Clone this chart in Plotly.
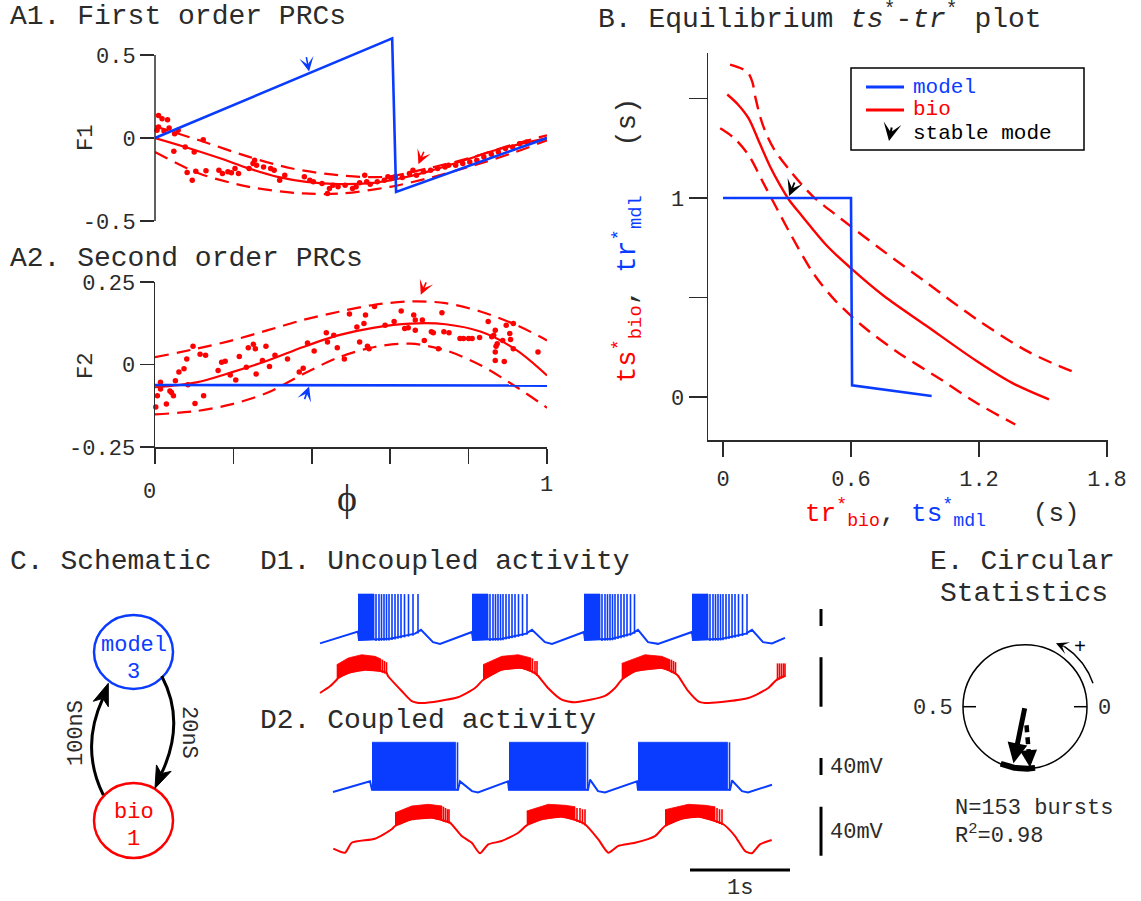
import numpy as np
import plotly.graph_objects as go

W, H = 1141, 901
BLUE = '#0a3cff'
RED = '#ff0000'
INK = '#2b2b2b'
MONO = 'Liberation Mono'
SERIF = 'Liberation Serif'

# ======================= DATA =======================
# ---- A1: first order PRCs ----
a1_model_phi = [0.0, 0.605, 0.615, 1.0]
a1_model_f1 = [0.0, 0.60, -0.325, 0.0]
a1_fit_phi = [0.0, 0.077, 0.168, 0.24, 0.313, 0.386, 0.467, 0.558, 0.612, 0.694, 0.785, 0.876, 1.0]
a1_fit_f1 = [0.0, -0.054, -0.124, -0.184, -0.234, -0.264, -0.278, -0.27, -0.25, -0.204, -0.138, -0.068, 0.0]
a1_upper_phi = [0.0, 0.113, 0.24, 0.35, 0.467, 0.585, 0.694, 0.812, 0.92, 1.0]
a1_upper_f1 = [0.07, -0.014, -0.114, -0.184, -0.224, -0.234, -0.184, -0.114, -0.034, 0.016]
a1_lower_phi = [0.0, 0.113, 0.24, 0.377, 0.476, 0.6, 0.694, 0.83, 0.92, 1.0]
a1_lower_f1 = [-0.084, -0.214, -0.294, -0.334, -0.334, -0.294, -0.244, -0.154, -0.084, -0.014]
a1_dots_phi = [0.009, 0.018, 0.032, 0.005, 0.009, 0.023, 0.036, 0.050, 0.059, 0.048,
               0.077, 0.100, 0.095, 0.082, 0.104, 0.123, 0.130, 0.163, 0.172, 0.186,
               0.195, 0.204, 0.213, 0.240, 0.250, 0.254, 0.259, 0.277, 0.295, 0.304,
               0.318, 0.331, 0.381, 0.395, 0.404, 0.426, 0.445, 0.440, 0.454, 0.467,
               0.485, 0.504, 0.513, 0.522, 0.535, 0.540, 0.549, 0.567, 0.585, 0.594,
               0.603, 0.613, 0.631, 0.649, 0.658, 0.667, 0.685, 0.703, 0.721, 0.740,
               0.749, 0.767, 0.785, 0.803, 0.821, 0.839, 0.858, 0.876, 0.894, 0.912,
               0.930, 0.948, 1.003]
a1_dots_f1 = [0.136, 0.116, 0.110, 0.046, 0.066, 0.042, 0.060, 0.026, 0.046, -0.080,
              -0.054, -0.084, -0.254, -0.208, -0.200, -0.010, -0.198, -0.194, -0.214, -0.204,
              -0.210, -0.184, -0.214, -0.184, -0.154, -0.134, -0.164, -0.174, -0.184, -0.194,
              -0.254, -0.224, -0.234, -0.254, -0.264, -0.274, -0.304, -0.334, -0.284, -0.294,
              -0.284, -0.304, -0.294, -0.270, -0.224, -0.264, -0.278, -0.264, -0.254, -0.234,
              -0.244, -0.234, -0.238, -0.214, -0.194, -0.224, -0.204, -0.194, -0.184, -0.174,
              -0.164, -0.164, -0.154, -0.144, -0.134, -0.114, -0.098, -0.084, -0.064, -0.054,
              -0.034, -0.024, 0.006]
a1_model_mode = (0.393, 0.40)
a1_bio_mode = (0.672, -0.158)

# ---- A2: second order PRCs ----
a2_model_phi = [0.0, 1.0]
a2_model_f2 = [-0.062, -0.064]
a2_fit_phi = [0.0, 0.106, 0.197, 0.288, 0.378, 0.469, 0.56, 0.651, 0.741, 0.832, 0.923, 1.0]
a2_fit_f2 = [-0.069, -0.054, -0.023, 0.012, 0.053, 0.089, 0.112, 0.124, 0.122, 0.099, 0.043, -0.033]
a2_upper_f2 = [0.022, 0.048, 0.073, 0.104, 0.135, 0.160, 0.181, 0.191, 0.186, 0.160, 0.119, 0.073]
a2_lower_f2 = [-0.151, -0.141, -0.120, -0.085, -0.029, 0.022, 0.053, 0.063, 0.043, -0.003, -0.069, -0.131]
a2_dots_phi = [0.002, 0.006, 0.014, 0.014, 0.029, 0.038, 0.042, 0.047, 0.052, 0.061,
               0.074, 0.081, 0.084, 0.097, 0.102, 0.115, 0.124, 0.129, 0.161, 0.170,
               0.179, 0.192, 0.206, 0.215, 0.233, 0.238, 0.251, 0.256, 0.258, 0.274,
               0.283, 0.292, 0.306, 0.338, 0.368, 0.378, 0.389, 0.406, 0.437, 0.440,
               0.456, 0.465, 0.483, 0.496, 0.515, 0.522, 0.533, 0.537, 0.542, 0.546,
               0.560, 0.587, 0.610, 0.628, 0.637, 0.646, 0.660, 0.664, 0.664, 0.682,
               0.687, 0.705, 0.710, 0.723, 0.732, 0.737, 0.750, 0.778, 0.787, 0.800,
               0.809, 0.828, 0.850, 0.859, 0.864, 0.868, 0.870, 0.873, 0.868, 0.868,
               0.887, 0.891, 0.896, 0.905, 0.907, 0.914, 0.914, 0.977]
a2_dots_f2 = [-0.129, -0.095, -0.074, -0.054, -0.120, -0.080, -0.085, -0.095, -0.049, -0.023,
              -0.013, 0.017, -0.061, 0.055, -0.118, 0.031, -0.095, 0.028, -0.018, 0.007,
              0.010, -0.032, -0.047, 0.024, -0.008, 0.051, 0.061, 0.048, -0.029, 0.012,
              0.055, -0.006, 0.028, 0.017, -0.023, -0.011, 0.065, 0.041, 0.096, 0.068,
              0.089, 0.051, 0.017, 0.153, 0.114, 0.068, 0.124, 0.150, 0.055, 0.048,
              0.176, 0.119, 0.130, 0.162, 0.109, 0.111, 0.150, 0.135, 0.104, 0.135,
              0.073, 0.099, 0.096, 0.048, 0.157, 0.099, 0.096, 0.079, 0.079, 0.079,
              0.079, 0.082, 0.130, 0.084, 0.089, 0.104, 0.055, 0.063, 0.038, 0.012,
              0.073, 0.009, 0.119, 0.094, 0.076, 0.124, 0.048, 0.038]
a2_model_mode = (0.393, -0.067)
a2_bio_mode = (0.678, 0.211)
phi_ticks = [0.0, 0.2, 0.4, 0.6, 0.8, 1.0]

# ---- B: equilibrium ts*-tr* ----
b_model_x = [0.0, 0.60, 0.605, 0.978]
b_model_y = [1.0, 1.0, 0.059, 0.005]
b_bio_x = [0.02, 0.07, 0.12, 0.17, 0.22, 0.27, 0.31, 0.37, 0.487, 0.603, 0.753, 0.953, 1.187, 1.353, 1.528]
b_bio_y = [1.52, 1.47, 1.40, 1.28, 1.16, 1.06, 0.99, 0.91, 0.76, 0.644, 0.509, 0.358, 0.182, 0.072, -0.012]
b_upper_x = [0.033, 0.112, 0.137, 0.153, 0.187, 0.237, 0.32, 0.42, 0.553, 0.737, 0.953, 1.187, 1.437, 1.67]
b_upper_y = [1.67, 1.635, 1.585, 1.50, 1.366, 1.249, 1.13, 1.01, 0.896, 0.745, 0.576, 0.392, 0.224, 0.114]
b_lower_x = [-0.013, 0.053, 0.12, 0.187, 0.253, 0.32, 0.42, 0.52, 0.653, 0.82, 1.02, 1.187, 1.37]
b_lower_y = [1.35, 1.30, 1.215, 1.08, 0.946, 0.812, 0.627, 0.492, 0.358, 0.224, 0.089, -0.029, -0.138]
b_stable = (0.31, 1.01)
b_xticks = [0.0, 0.6, 1.2, 1.8]
b_xticktext = ['0', '0.6', '1.2', '1.8']
b_yticks = [0.0, 0.5, 1.0, 1.5]
b_yticktext = ['0', '', '1', '']

# ---- D1: uncoupled activity (time s, membrane mV) ----
d1m_t = [0.00, 0.38, 0.39, 0.70, 0.95, 1.01, 1.13, 1.20, 1.52, 1.53, 1.82, 2.06, 2.12, 2.25, 2.32,
         2.64, 2.65, 2.92, 3.12, 3.18, 3.28, 3.38, 3.72, 3.73, 4.02, 4.26, 4.32, 4.43, 4.52, 4.65]
d1m_v = [-61, -33, -53, -50, -38, -29, -58, -62, -34, -53, -50, -38, -29, -58, -62,
         -34, -53, -50, -38, -29, -58, -62, -34, -53, -50, -38, -29, -58, -61, -48]
d1m_burst_start = [0.38, 1.52, 2.64, 3.72]
d1m_burst_end = [1.01, 2.12, 3.18, 4.32]
d1m_dense_end = [0.54, 1.68, 2.80, 3.88]
d1m_spike_offsets = [0.18, 0.21, 0.235, 0.26, 0.285, 0.31, 0.34, 0.37, 0.40, 0.43, 0.465, 0.505, 0.55, 0.60]
d1m_peak = 55

d1b_t = [0.00, 0.10, 0.167, 0.183, 0.283, 0.45, 0.617, 0.667, 0.68, 0.817, 0.917, 1.017, 1.38, 1.55,
         1.63, 1.817, 2.017, 2.15, 2.18, 2.28, 2.417, 2.55, 2.85, 2.95, 3.017, 3.15, 3.417, 3.55,
         3.58, 3.683, 3.783, 3.883, 4.283, 4.483, 4.567, 4.65]
d1b_v = [-51.9, -46.5, -41.2, -39.8, -35.8, -33.1, -34.4, -35.8, -38.2, -50.3, -58.4, -60, -55.4, -47.9,
         -41.4, -33.1, -31.7, -35.8, -38, -47.9, -57.3, -59.4, -54.3, -47.9, -41.2, -34.4, -31.7, -35.8,
         -38, -50.5, -58.6, -60, -56, -47.9, -41.2, -38]
d1b_band_t = [[0.167, 0.283, 0.417, 0.55, 0.61], [1.63, 1.817, 1.983, 2.11], [3.017, 3.25, 3.417, 3.50]]
d1b_band_v = [[-29.1, -23.6, -21, -22.3, -24.5], [-29, -22.3, -21, -23.6], [-28, -21, -22.3, -25]]
d1b_spike_t = [0.625, 0.645, 0.665, 2.125, 2.15, 2.17, 3.515, 3.535, 3.555, 4.575, 4.595, 4.615, 4.635, 4.65]
d1b_spike_v = [-25, -26, -27, -24, -26, -26, -25, -26, -27, -28, -28, -28, -28, -28]

# ---- D2: coupled activity ----
d2m_t = [0.13, 0.50, 0.52, 1.38, 1.40, 1.52, 1.58, 1.88, 1.89, 2.68, 2.70, 2.78, 2.85, 3.17, 3.18,
         4.10, 4.12, 4.22, 4.28, 4.52]
d2m_v = [-60, -35, -55, -55, -35, -58, -61, -35, -55, -55, -31, -58, -61, -35, -55,
         -55, -33, -58, -61, -43]
d2m_block_start = [0.52, 1.89, 3.18]
d2m_block_end = [1.355, 2.655, 4.075]
d2m_last_spike = [1.375, 2.675, 4.095]
d2m_peak = 57

d2b_t = [0.133, 0.25, 0.317, 0.55, 0.717, 0.75, 0.917, 1.117, 1.25, 1.30, 1.417, 1.517, 1.60, 1.683,
         1.817, 1.983, 2.067, 2.217, 2.417, 2.583, 2.65, 2.783, 2.883, 2.983, 3.15, 3.35, 3.45,
         3.617, 3.783, 3.95, 4.033, 4.15, 4.25, 4.317, 4.40, 4.517]
d2b_v = [-56.2, -59.5, -51.4, -48.1, -40.4, -37.7, -32.3, -31, -33.6, -35, -45.9, -51.4, -60, -52.7,
         -50, -43.2, -37.2, -32.3, -30.1, -33.6, -36.3, -48.6, -59.5, -54, -51.4, -45.9, -37.7,
         -31.8, -30.1, -33.6, -36.3, -45.9, -58.1, -60, -52.7, -49.1]
d2b_band_t = [[0.75, 0.917, 1.083, 1.22], [2.067, 2.283, 2.45, 2.55], [3.45, 3.683, 3.85, 3.95]]
d2b_band_v = [[-26.9, -21.4, -20, -21.4], [-25.5, -20, -20.8, -22], [-24.4, -20, -20.8, -22]]
d2b_spike_t = [1.235, 1.255, 1.275, 1.29, 2.57, 2.60, 2.625, 2.65, 3.97, 3.995, 4.02]
d2b_spike_v = [-22, -23, -24, -24, -23, -23, -24, -24, -23, -24, -24]

scale_mv = 40
scale_s = 1.0

# ---- E: circular statistics ----
e_mean_phase = 0.718
e_mean_length = 0.93
e_ref_phase = 0.763
e_phase_range = [0.686, 0.776]
e_n_bursts = 153
e_r2 = 0.98

# ======================= HELPERS (pixel layout) =======================
def PX(x):
    return x / W


def PY(y):
    return 1 - y / H


def lin_map(p0, v0, p1, v1):
    s = (v1 - v0) / (p1 - p0)
    return (lambda p: v0 + (p - p0) * s), (lambda v: p0 + (v - v0) / s)


phx_val, phx_px = lin_map(155, 0.0, 547, 1.0)
a1y_val, a1y_px = lin_map(138, 0.0, 55, 0.5)
a2y_val, a2y_px = lin_map(364.5, 0.0, 282, 0.25)
bx_val, bx_px = lin_map(723, 0.0, 851, 0.6)
by_val, by_px = lin_map(397, 0.0, 198, 1.0)
dx_val, dx_px = lin_map(320, 0.0, 420, 1.0)
d1m_val, d1m_px = lin_map(643, -60, 626, -20)
d1b_val, d1b_px = lin_map(703, -60, 653.5, -20)
d2m_val, d2m_px = lin_map(792, -60, 775, -20)
d2b_val, d2b_px = lin_map(853.3, -60, 804.3, -20)
ex_val, ex_px = lin_map(1025, 0.0, 1087, 1.0)
ey_val, ey_px = lin_map(706.7, 0.0, 644.7, 1.0)


def xdom(a, b):
    return [PX(a), PX(b)]


def ydom(bottom, top):
    return [PY(bottom), PY(top)]


fig = go.Figure()


def line_tr(x, y, xa, ya, color, width=2.2, dash='solid', shape='linear', fill=None, smoothing=0.9):
    kw = dict(x=x, y=y, mode='lines', xaxis=xa, yaxis=ya, hoverinfo='skip',
              line=dict(color=color, width=width, dash=dash, shape=shape))
    if shape == 'spline':
        kw['line']['smoothing'] = smoothing
    if fill:
        kw['fill'] = 'toself'
        kw['fillcolor'] = color
    fig.add_trace(go.Scatter(**kw))


DASH = '14px,8px'

# ---------------- A1 ----------------
fig.add_trace(go.Scatter(x=a1_dots_phi, y=a1_dots_f1, mode='markers', xaxis='x', yaxis='y',
                         marker=dict(color=RED, size=5.5), cliponaxis=False, hoverinfo='skip'))
line_tr(a1_upper_phi, a1_upper_f1, 'x', 'y', RED, 2.2, DASH, 'spline')
line_tr(a1_lower_phi, a1_lower_f1, 'x', 'y', RED, 2.2, DASH, 'spline')
line_tr(a1_fit_phi, a1_fit_f1, 'x', 'y', RED, 2.2, 'solid', 'spline')
line_tr(a1_model_phi, a1_model_f1, 'x', 'y', BLUE, 2.6)

# ---------------- A2 ----------------
fig.add_trace(go.Scatter(x=a2_dots_phi, y=a2_dots_f2, mode='markers', xaxis='x2', yaxis='y2',
                         marker=dict(color=RED, size=5.5), cliponaxis=False, hoverinfo='skip'))
line_tr(a2_fit_phi, a2_upper_f2, 'x2', 'y2', RED, 2.2, DASH, 'spline')
line_tr(a2_fit_phi, a2_lower_f2, 'x2', 'y2', RED, 2.2, DASH, 'spline')
line_tr(a2_fit_phi, a2_fit_f2, 'x2', 'y2', RED, 2.2, 'solid', 'spline')
line_tr(a2_model_phi, a2_model_f2, 'x2', 'y2', BLUE, 2.6)

# ---------------- B ----------------
line_tr(b_upper_x, b_upper_y, 'x3', 'y3', RED, 2.4, DASH, 'spline')
line_tr(b_lower_x, b_lower_y, 'x3', 'y3', RED, 2.4, DASH, 'spline')
line_tr(b_bio_x, b_bio_y, 'x3', 'y3', RED, 2.4, 'solid', 'spline')
line_tr(b_model_x, b_model_y, 'x3', 'y3', BLUE, 2.6)


# ---------------- D traces ----------------
def band_poly(top_t, top_v, base_t, base_v):
    t0, t1 = top_t[0], top_t[-1]
    inner = [(t, v) for t, v in zip(base_t, base_v) if t0 < t < t1]
    bt = [t1] + [t for t, _ in reversed(inner)] + [t0]
    bv = [float(np.interp(t1, base_t, base_v))] + [v for _, v in reversed(inner)] + \
         [float(np.interp(t0, base_t, base_v))]
    return list(top_t) + bt, list(top_v) + bv


def spikes(ts, peaks, base_t, base_v, drop=3):
    xs, ys = [], []
    for t, p in zip(ts, peaks):
        xs += [t, t, None]
        ys += [float(np.interp(t, base_t, base_v)) - drop, p, None]
    return xs, ys


# D1 model (blue)
line_tr(d1m_t, d1m_v, 'x4', 'y4', BLUE, 2.0)
for s, de in zip(d1m_burst_start, d1m_dense_end):
    px_, py_ = band_poly([s, de], [d1m_peak, d1m_peak], d1m_t, d1m_v)
    line_tr(px_, py_, 'x4', 'y4', BLUE, 0.8, fill=True)
sp_t, sp_v = [], []
for s, e in zip(d1m_burst_start, d1m_burst_end):
    for o in d1m_spike_offsets:
        if s + o <= e - 0.02:
            sp_t.append(s + o)
            sp_v.append(d1m_peak)
xs, ys = spikes(sp_t, sp_v, d1m_t, d1m_v, drop=4)
line_tr(xs, ys, 'x4', 'y4', BLUE, 1.6)

# D1 bio (red)
line_tr(d1b_t, d1b_v, 'x4', 'y5', RED, 2.0, shape='spline', smoothing=0.6)
for bt, bv in zip(d1b_band_t, d1b_band_v):
    px_, py_ = band_poly(bt, bv, d1b_t, d1b_v)
    line_tr(px_, py_, 'x4', 'y5', RED, 0.8, fill=True)
xs, ys = spikes(d1b_spike_t, d1b_spike_v, d1b_t, d1b_v, drop=1)
line_tr(xs, ys, 'x4', 'y5', RED, 1.6)

# D2 model (blue)
line_tr(d2m_t, d2m_v, 'x4', 'y6', BLUE, 2.0)
for s, e in zip(d2m_block_start, d2m_block_end):
    px_, py_ = band_poly([s, e], [d2m_peak, d2m_peak], d2m_t, d2m_v)
    line_tr(px_, py_, 'x4', 'y6', BLUE, 0.8, fill=True)
xs, ys = spikes(d2m_last_spike, [d2m_peak] * len(d2m_last_spike), d2m_t, d2m_v, drop=2)
line_tr(xs, ys, 'x4', 'y6', BLUE, 1.6)

# D2 bio (red)
line_tr(d2b_t, d2b_v, 'x4', 'y7', RED, 2.0, shape='spline', smoothing=0.6)
for bt, bv in zip(d2b_band_t, d2b_band_v):
    px_, py_ = band_poly(bt, bv, d2b_t, d2b_v)
    line_tr(px_, py_, 'x4', 'y7', RED, 0.8, fill=True)
xs, ys = spikes(d2b_spike_t, d2b_spike_v, d2b_t, d2b_v, drop=1)
line_tr(xs, ys, 'x4', 'y7', RED, 1.6)

# ---------------- E ----------------
arc = np.linspace(e_phase_range[0], e_phase_range[1], 40) * 2 * np.pi
line_tr(np.cos(arc), np.sin(arc), 'x5', 'y8', 'black', 6)
ang = np.radians(np.linspace(19, 57, 30))
line_tr(1.16 * np.cos(ang), 1.16 * np.sin(ang), 'x5', 'y8', 'black', 1.5)
rp = 2 * np.pi * e_ref_phase
line_tr([0.30 * np.cos(rp), 0.84 * np.cos(rp)], [0.30 * np.sin(rp), 0.84 * np.sin(rp)],
        'x5', 'y8', 'black', 4.5, '7px,5px')

# ======================= ANNOTATIONS =======================
ann = []


def txt(x, y, text, size=22, color=INK, xanchor='left', angle=0, family=MONO):
    ann.append(dict(x=PX(x), y=PY(y), xref='paper', yref='paper', text=text, showarrow=False,
                    xanchor=xanchor, yanchor='middle', textangle=angle,
                    font=dict(family=family, size=size, color=color)))


def arrow(x, y, ax, ay, xref, yref, color, width=1.6, size=1.5, head=3, axref='pixel', ayref='pixel'):
    ann.append(dict(x=x, y=y, ax=ax, ay=ay, xref=xref, yref=yref, axref=axref, ayref=ayref,
                    text='', showarrow=True, arrowhead=head, arrowsize=size, arrowwidth=width,
                    arrowcolor=color))


# titles
TS = 28
txt(8, 17, 'A1. First order PRCs', TS)
txt(8, 258, 'A2. Second order PRCs', TS)
txt(596, 17, 'B. Equilibrium <i>ts</i><sup>*</sup>-<i>tr</i><sup>*</sup> plot', TS)
txt(8, 561, 'C. Schematic', TS)
txt(258, 561, 'D1. Uncoupled activity', TS)
txt(258, 720, 'D2. Coupled activity', TS)
txt(1022, 561, 'E. Circular', TS, xanchor='center')
txt(1024, 593, 'Statistics', TS, xanchor='center')

# A labels
txt(86, 138, 'F1', 22, angle=-90, xanchor='center')
txt(86, 366, 'F2', 22, angle=-90, xanchor='center')
txt(phx_px(0.0) - 6, 492, '0', 22, xanchor='center')
txt(phx_px(1.0) - 1, 485, '1', 22, xanchor='center')
txt(347, 498, 'ϕ', 38, family=SERIF, xanchor='center')

# A arrows (stable modes)
arrow(a1_model_mode[0], a1_model_mode[1], -3, -16, 'x', 'y', BLUE)
arrow(a1_bio_mode[0], a1_bio_mode[1], 6, -14, 'x', 'y', RED)
arrow(a2_model_mode[0], a2_model_mode[1], -5, 14, 'x2', 'y2', BLUE)
arrow(a2_bio_mode[0], a2_bio_mode[1], 6, -14, 'x2', 'y2', RED)

# B labels
ylab = ('<span style="color:%s">ts<sup>*</sup><sub>bio</sub></span>, '
        '<span style="color:%s">tr<sup>*</sup><sub>mdl</sub></span>&nbsp;&nbsp;&nbsp;(s)') % (RED, BLUE)
xlab = ('<span style="color:%s">tr<sup>*</sup><sub>bio</sub></span>, '
        '<span style="color:%s">ts<sup>*</sup><sub>mdl</sub></span>&nbsp;&nbsp;&nbsp;(s)') % (RED, BLUE)
txt(628, 240, ylab, 27, angle=-90, xanchor='center')
txt(942, 513, xlab, 26, xanchor='center')
arrow(b_stable[0], b_stable[1], 6, -15, 'x3', 'y3', 'black', width=1.8)

# B legend
txt(911, 87, 'model', 21, BLUE)
txt(911, 110, 'bio', 21, RED)
txt(911, 133, 'stable mode', 21, 'black')
arrow(PX(889), PY(141), 3, -15, 'paper', 'paper', 'black', width=2.0)

# C schematic texts
txt(133.5, 645, 'model', 22, BLUE, 'center')
txt(133.5, 672, '3', 22, BLUE, 'center')
txt(133.5, 812, 'bio', 22, RED, 'center')
txt(133.5, 839, '1', 22, RED, 'center')
txt(76, 733, '100nS', 22, angle=-90, xanchor='center')
txt(189, 733, '20nS', 22, angle=90, xanchor='center')

# D scale labels
txt(828, (d2m_px(-20) + d2m_px(-20 + scale_mv)) / 2 + 1, '40mV', 22)
txt(828, (d2b_px(-62) + d2b_px(-62 + scale_mv)) / 2 + 1, '40mV', 22)
txt((dx_px(3.7) + dx_px(3.7 + scale_s)) / 2, 888, '1s', 22, xanchor='center')

# E texts and arrows
txt(933, 708, '0.5', 22, xanchor='center')
txt(1104, 708, '0', 22, xanchor='center')
txt(1080, 647, '+', 20, 'black', 'center')
txt(953, 808, 'N=%d bursts' % e_n_bursts, 22)
txt(953, 834, 'R<sup>2</sup>=%.2f' % e_r2, 22)
mp = 2 * np.pi * e_mean_phase
arrow(e_mean_length * np.cos(mp), e_mean_length * np.sin(mp), 0, 0, 'x5', 'y8', 'black',
      width=5, size=0.8, head=2, axref='x5', ayref='y8')
arrow(0.98 * np.cos(rp), 0.98 * np.sin(rp), 0.80 * np.cos(rp), 0.80 * np.sin(rp), 'x5', 'y8', 'black',
      width=4.0, size=0.85, head=2, axref='x5', ayref='y8')
a0, a1_ = np.radians(56), np.radians(64)
arrow(1.14 * np.cos(a1_), 1.14 * np.sin(a1_), 1.16 * np.cos(a0), 1.16 * np.sin(a0), 'x5', 'y8', 'black',
      width=1.5, size=1.4, head=3, axref='x5', ayref='y8')

# ======================= SHAPES =======================
shapes = []


def pline(x0, y0, x1, y1, color=INK, width=1.5):
    shapes.append(dict(type='line', xref='paper', yref='paper', x0=PX(x0), y0=PY(y0), x1=PX(x1), y1=PY(y1),
                       line=dict(color=color, width=width)))


# A1 spine (only between -0.5 and 0.5)
pline(155, a1y_px(-0.5), 155, a1y_px(0.5))

# B legend box and samples
shapes.append(dict(type='rect', xref='paper', yref='paper', x0=PX(851), x1=PX(1084), y0=PY(150), y1=PY(68),
                   line=dict(color='black', width=1.5)))
pline(866, 87, 904, 87, BLUE, 3)
pline(866, 110, 904, 110, RED, 3)

# C schematic circles
shapes.append(dict(type='circle', xref='paper', yref='paper', x0=PX(94), x1=PX(173), y0=PY(689), y1=PY(615),
                   line=dict(color=BLUE, width=2.5)))
shapes.append(dict(type='circle', xref='paper', yref='paper', x0=PX(94), x1=PX(173), y0=PY(858), y1=PY(783),
                   line=dict(color=RED, width=2.5)))


def head_path(tip, back, L=22, w=8, notch=6):
    d = np.array(tip, float) - np.array(back, float)
    d /= np.linalg.norm(d)
    n = np.array([-d[1], d[0]])
    t = np.array(tip, float)
    c = t - L * d
    p1 = c + w * n
    p2 = c - w * n
    nt = t - (L - notch) * d
    pts = [t, p1, nt, p2]
    path = 'M ' + ' L '.join('%f,%f' % (PX(p[0]), PY(p[1])) for p in pts) + ' Z'
    return path, nt


def curve(p0, c, p1):
    return 'M %f,%f Q %f,%f %f,%f' % (PX(p0[0]), PY(p0[1]), PX(c[0]), PY(c[1]), PX(p1[0]), PY(p1[1]))


hp, nt = head_path((108.3, 683.3), (100.8, 704))
shapes.append(dict(type='path', xref='paper', yref='paper', path=curve((103.3, 795), (80, 748), nt),
                   line=dict(color='black', width=3)))
shapes.append(dict(type='path', xref='paper', yref='paper', path=hp, fillcolor='black',
                   line=dict(color='black', width=1)))
hp, nt = head_path((155, 788.3), (163.8, 768.1))
shapes.append(dict(type='path', xref='paper', yref='paper', path=curve((161.7, 676), (186, 722), nt),
                   line=dict(color='black', width=3)))
shapes.append(dict(type='path', xref='paper', yref='paper', path=hp, fillcolor='black',
                   line=dict(color='black', width=1)))

# D scale bars (40 mV on each trace's own scale, 1 s on time axis)
pline(821, d1m_px(-20), 821, d1m_px(-20 + scale_mv), 'black', 3)
pline(821, d1b_px(-63), 821, d1b_px(-63 + scale_mv), 'black', 3)
pline(821, d2m_px(-20), 821, d2m_px(-20 + scale_mv), 'black', 3)
pline(821, d2b_px(-62), 821, d2b_px(-62 + scale_mv), 'black', 3)
pline(dx_px(3.7), 870, dx_px(3.7 + scale_s), 870, 'black', 3)

# E circle and ticks
shapes.append(dict(type='circle', xref='x5', yref='y8', x0=-1, x1=1, y0=-1, y1=1,
                   line=dict(color='black', width=1.5)))
shapes.append(dict(type='line', xref='x5', yref='y8', x0=-1, x1=-0.79, y0=0, y1=0, line=dict(color='black', width=1.5)))
shapes.append(dict(type='line', xref='x5', yref='y8', x0=1, x1=0.79, y0=0, y1=0, line=dict(color='black', width=1.5)))

# ======================= LAYOUT =======================
tickfont = dict(family=MONO, size=22, color=INK)
hidden = dict(visible=False, showgrid=False, zeroline=False, fixedrange=True)
axis_common = dict(showgrid=False, zeroline=False, ticks='outside', tickwidth=1.5, tickcolor=INK,
                   linecolor=INK, linewidth=1.5, tickfont=tickfont, automargin=False)

fig.update_layout(
    width=W, height=H, margin=dict(l=0, r=0, t=0, b=0),
    paper_bgcolor='white', plot_bgcolor='rgba(0,0,0,0)', showlegend=False,
    font=dict(family=MONO, color=INK),
    xaxis=dict(domain=xdom(155, 547), range=[0, 1], anchor='y', **hidden),
    yaxis=dict(domain=ydom(226, 25), range=[a1y_val(226), a1y_val(25)], anchor='x', showline=False,
               tickvals=[-0.5, 0, 0.5], ticktext=['-0.5', '0', '0.5'], ticklen=14, ticklabelstandoff=0,
               **axis_common),
    xaxis2=dict(domain=xdom(155, 547), range=[0, 1], anchor='y2', showline=True, tickvals=phi_ticks,
                showticklabels=False, ticklen=15, **axis_common),
    yaxis2=dict(domain=ydom(447, 282), range=[-0.25, 0.25], anchor='x2', showline=True,
                tickvals=[-0.25, 0, 0.25], ticktext=['-0.25', '0', '0.25'], ticklen=14, ticklabelstandoff=0,
                **axis_common),
    xaxis3=dict(domain=xdom(708, 1108), range=[bx_val(708), bx_val(1108)], anchor='y3', showline=True,
                tickvals=b_xticks, ticktext=b_xticktext, ticklen=15, ticklabelstandoff=3, **axis_common),
    yaxis3=dict(domain=ydom(440, 53), range=[by_val(440), by_val(53)], anchor='x3', showline=True,
                tickvals=b_yticks, ticktext=b_yticktext, ticklen=18, ticklabelstandoff=0, **axis_common),
    xaxis4=dict(domain=xdom(315, 790), range=[dx_val(315), dx_val(790)], anchor='y4', **hidden),
    yaxis4=dict(domain=ydom(648, 588), range=[d1m_val(648), d1m_val(588)], anchor='x4', **hidden),
    yaxis5=dict(domain=ydom(708, 650), range=[d1b_val(708), d1b_val(650)], anchor='x4', **hidden),
    yaxis6=dict(domain=ydom(797, 738), range=[d2m_val(797), d2m_val(738)], anchor='x4', **hidden),
    yaxis7=dict(domain=ydom(858, 800), range=[d2b_val(858), d2b_val(800)], anchor='x4', **hidden),
    xaxis5=dict(domain=xdom(945, 1105), range=[ex_val(945), ex_val(1105)], anchor='y8', **hidden),
    yaxis8=dict(domain=ydom(778, 636), range=[ey_val(778), ey_val(636)], anchor='x5', **hidden),
    annotations=ann,
    shapes=shapes,
)

fig.write_html("out.html", config={'displayModeBar': False, 'staticPlot': True},
               post_script="document.body.style.margin='0px';")
